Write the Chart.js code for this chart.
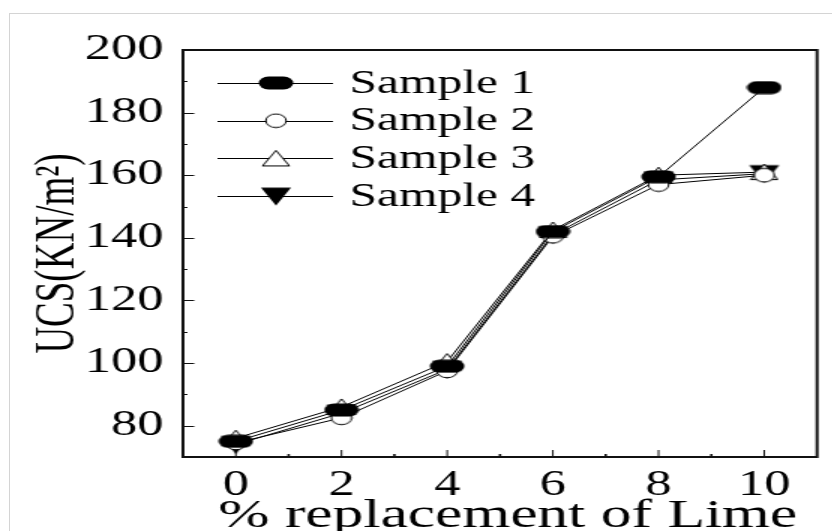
<!DOCTYPE html>
<html>
<head>
<meta charset="utf-8">
<script src="https://cdn.jsdelivr.net/npm/chart.js@4/dist/chart.umd.min.js"></script>
<style>
  html,body{margin:0;padding:0;background:#fff;overflow:hidden;width:832px;height:531px;}
  #frame{position:absolute;left:9px;top:13px;width:900px;height:600px;border:1px solid #d4d4d4;}
  #wrap{position:absolute;left:0;top:0;width:555px;height:531px;transform:scaleX(1.5);transform-origin:0 0;}
</style>
</head>
<body>
<div id="frame"></div>
<div id="wrap"><canvas id="c"></canvas></div>
<script>
// ---- data ----
const xValues = [0, 2, 4, 6, 8, 10];
const sample1 = [75, 85, 99, 142, 159.5, 188];
const sample2 = [74.5, 82.5, 97.5, 140.5, 157, 160];
const sample3 = [76, 86, 100.5, 142.5, 160, 161];
const sample4 = [74, 84, 98, 141, 158.5, 160.5];
const seriesNames = ['Sample 1', 'Sample 2', 'Sample 3', 'Sample 4'];
const xTickValues = [0, 2, 4, 6, 8, 10];
const xMinorTicks = [1, 3, 5, 7, 9];
const yTickValues = [80, 100, 120, 140, 160, 180, 200];
const yMinorTicks = [90, 110, 130, 150, 170, 190];
const xTitle = ' % replacement of Lime';
const yTitle = 'UCS(KN/m²)';

const FONT = "'Liberation Serif', 'Times New Roman', serif";

// ---- marker images ----
function mk(w, h, draw) {
  const c = document.createElement('canvas');
  c.width = w; c.height = h;
  const g = c.getContext('2d');
  draw(g, w, h);
  return c;
}
const pill = mk(24, 14, (g, w, h) => {
  g.fillStyle = '#000';
  g.beginPath();
  const r = 6.5, x0 = 0.5, y0 = 0.5, x1 = w - 0.5, y1 = h - 0.5;
  g.moveTo(x0 + r, y0); g.lineTo(x1 - r, y0);
  g.arc(x1 - r, y0 + r, r, -Math.PI / 2, Math.PI / 2);
  g.lineTo(x0 + r, y1);
  g.arc(x0 + r, y0 + r, r, Math.PI / 2, Math.PI * 1.5);
  g.closePath(); g.fill();
});
const circ = mk(16, 16, (g) => {
  g.fillStyle = '#fff'; g.strokeStyle = '#000'; g.lineWidth = 1;
  g.beginPath(); g.arc(8, 8, 6.8, 0, Math.PI * 2); g.fill(); g.stroke();
});
const triUp = mk(20, 18, (g, w, h) => {
  g.fillStyle = '#fff'; g.strokeStyle = '#000'; g.lineWidth = 1;
  g.beginPath(); g.moveTo(w / 2, 1); g.lineTo(w - 1, h - 1.5); g.lineTo(1, h - 1.5); g.closePath();
  g.fill(); g.stroke();
});
const triDown = mk(22, 20, (g, w, h) => {
  g.fillStyle = '#000';
  g.beginPath(); g.moveTo(1, 1.5); g.lineTo(w - 1, 1.5); g.lineTo(w / 2, h - 0.5); g.closePath();
  g.fill();
});
const markers = [pill, circ, triUp, triDown];
const seriesData = [sample1, sample2, sample3, sample4];

const datasets = seriesData.map((arr, i) => ({
  label: seriesNames[i],
  data: xValues.map((x, j) => ({ x: x, y: arr[j] })),
  borderColor: '#000',
  borderWidth: 1,
  backgroundColor: '#000',
  pointStyle: markers[i],
  pointRadius: 8,
  tension: 0,
  fill: false
}));

// frame + inward ticks
const framePlugin = {
  id: 'framePlugin',
  beforeDatasetsDraw(chart) {
    const { ctx, chartArea: a, scales: { x, y } } = chart;
    ctx.save();
    ctx.strokeStyle = '#111';
    ctx.lineWidth = 1;
    ctx.beginPath();
    yTickValues.forEach(v => { const p = Math.round(y.getPixelForValue(v)) + 0.5; ctx.moveTo(a.left, p); ctx.lineTo(a.left + 7.5, p); });
    yMinorTicks.forEach(v => { const p = Math.round(y.getPixelForValue(v)) + 0.5; ctx.moveTo(a.left, p); ctx.lineTo(a.left + 3, p); });
    xTickValues.forEach(v => { const p = x.getPixelForValue(v); ctx.moveTo(p, a.bottom); ctx.lineTo(p, a.bottom - 7); });
    ctx.stroke();
    ctx.lineWidth = 1.6;
    ctx.beginPath();
    xMinorTicks.forEach(v => { const p = x.getPixelForValue(v); ctx.moveTo(p, a.bottom); ctx.lineTo(p, a.bottom - 3); });
    ctx.stroke();
    ctx.lineWidth = 2;
    ctx.strokeRect(a.left, a.top, a.right - a.left, a.bottom - a.top);
    ctx.restore();
  }
};

// legend inside plot
const legendPlugin = {
  id: 'legendPlugin',
  afterDraw(chart) {
    const { ctx, chartArea: a } = chart;
    ctx.save();
    chart.data.datasets.forEach((ds, i) => {
      const yy = a.top + 33 + i * 37.7;
      const x0 = a.left + 23, x1 = a.left + 100, xm = a.left + 62;
      ctx.strokeStyle = '#000'; ctx.lineWidth = 1;
      ctx.beginPath(); ctx.moveTo(x0, Math.round(yy) + 0.5); ctx.lineTo(x1, Math.round(yy) + 0.5); ctx.stroke();
      const img = ds.pointStyle;
      ctx.drawImage(img, xm - img.width / 2, yy - img.height / 2);
      ctx.fillStyle = '#000';
      ctx.font = "33px " + FONT;
      ctx.textBaseline = 'middle';
      ctx.textAlign = 'left';
      ctx.fillText(ds.label, a.left + 111, yy + 1);
    });
    ctx.restore();
  }
};

new Chart(document.getElementById('c'), {
  type: 'line',
  data: { datasets },
  options: {
    responsive: true,
    maintainAspectRatio: false,
    animation: false,
    devicePixelRatio: 1,
    layout: { padding: { top: 50, right: 10.3, left: 0, bottom: 0 } },
    plugins: { legend: { display: false }, tooltip: { enabled: false } },
    scales: {
      x: {
        type: 'linear', min: -1, max: 11,
        afterBuildTicks(s) { s.ticks = xTickValues.map(v => ({ value: v })); },
        afterFit(s) { s.height = 74; },
        grid: { display: false, drawTicks: false },
        border: { display: false },
        ticks: { color: '#000', font: { family: FONT, size: 35 }, padding: 8, maxRotation: 0, autoSkip: false },
        title: { display: true, text: xTitle, color: '#000', font: { family: FONT, size: 41, lineHeight: 0.7 }, padding: 0 }
      },
      y: {
        type: 'linear', min: 70, max: 200,
        afterBuildTicks(s) { s.ticks = yTickValues.map(v => ({ value: v })); },
        afterFit(s) { s.width = 122; },
        grid: { display: false, drawTicks: false },
        border: { display: false },
        ticks: { color: '#000', font: { family: FONT, size: 35 }, padding: 13, autoSkip: false },
        title: { display: true, text: yTitle, color: '#000', font: { family: FONT, size: 37, lineHeight: 1 }, padding: { top: 20.5, bottom: 0 } }
      }
    }
  },
  plugins: [framePlugin, legendPlugin]
});
</script>
</body>
</html>
